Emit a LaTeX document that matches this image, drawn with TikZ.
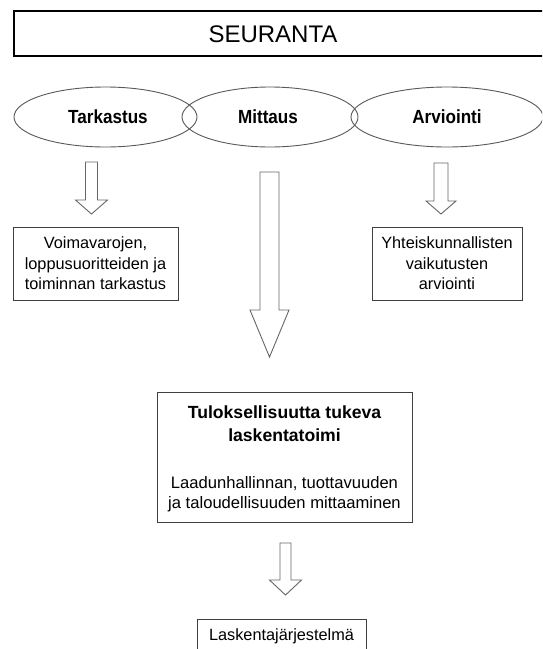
\documentclass[tikz,border=0pt]{standalone}
\usepackage{fontspec}
\setmainfont{Liberation Sans}
\newfontfamily\ovalfont[FakeStretch=0.9]{Liberation Sans}
\usetikzlibrary{shapes.geometric}
\tikzset{
  boxline/.style={draw=black!75, line width=0.9pt},
  ovalline/.style={draw=black!65, line width=0.9pt},
  arrowline/.style={draw=black!60, line width=0.9pt, fill=white},
  smalltxt/.style={font=\fontsize{16.3}{20.5}\selectfont, align=center, inner sep=0pt},
  ovaltxt/.style={font=\ovalfont\bfseries\fontsize{19}{22}\selectfont, inner sep=0pt},
}
\newcommand{\blkarrow}[6]{%
  \draw[arrowline] ({#1-#5},#2) -- ({#1+#5},#2) -- ({#1+#5},#3) -- ({#1+#6},#3)
    -- (#1,#4) -- ({#1-#6},#3) -- ({#1-#5},#3) -- cycle;}
\begin{document}
\begin{tikzpicture}[x=1pt,y=-1pt]
\useasboundingbox (0,0) rectangle (542,649);
\clip (0,0) rectangle (542,649);
\fill[white] (0,0) rectangle (542,649);
% title
\draw[draw=black, line width=1.6pt] (14,11) rectangle (580,56);
\node[font=\fontsize{24}{28}\selectfont, inner sep=0pt] (seur) at (273,34) {SEURANTA};
% ovals
\node[ellipse, ovalline, minimum width=183pt, minimum height=60pt, inner sep=0pt] (tark) at (105.5,117) {};
\node[ellipse, ovalline, minimum width=176pt, minimum height=60pt, inner sep=0pt] (mitt) at (270,117) {};
\node[ellipse, ovalline, minimum width=192pt, minimum height=60pt, inner sep=0pt] (arvi) at (447,117) {};
\node[ovaltxt] (tarkt) at (108,117) {Tarkastus};
\node[ovaltxt] (mittt) at (268,117) {Mittaus};
\node[ovaltxt] (arvit) at (447,117) {Arviointi};
% arrows
\blkarrow{91.5}{162}{200}{214}{6}{16}
\blkarrow{441}{163}{201}{214}{7}{15}
\blkarrow{269.5}{172}{310}{357}{9.5}{19.5}
\blkarrow{285.5}{543}{580}{595}{5.5}{16}
% side boxes
\node[boxline, minimum width=165pt, minimum height=73pt, inner sep=0pt] (lbox) at (95.5,263.5) {};
\node[smalltxt] (ltxt) at (lbox.center) {Voimavarojen,\\loppusuoritteiden ja\\toiminnan tarkastus};
\node[boxline, minimum width=150pt, minimum height=73pt, inner sep=0pt] (rbox) at (447,263.5) {};
\node[smalltxt] (rtxt) at (rbox.center) {Yhteiskunnallisten\\vaikutusten\\arviointi};
% middle box
\node[boxline, minimum width=255pt, minimum height=130pt, inner sep=0pt] (mbox) at (284.5,457) {};
\node[font=\bfseries\fontsize{17.6}{23}\selectfont, align=center, inner sep=0pt] (mhead) at (284.5,423.5) {Tuloksellisuutta tukeva\\laskentatoimi};
\node[smalltxt, font=\fontsize{16.6}{20}\selectfont] (msub) at (284.5,494) {Laadunhallinnan, tuottavuuden\\ja taloudellisuuden mittaaminen};
% bottom box
\node[boxline, minimum width=169pt, minimum height=40pt, inner sep=0pt] (bbox) at (281.5,639) {};
\node[smalltxt] (btxt) at (281.5,636) {Laskentajärjestelmä};
\end{tikzpicture}
\end{document}
